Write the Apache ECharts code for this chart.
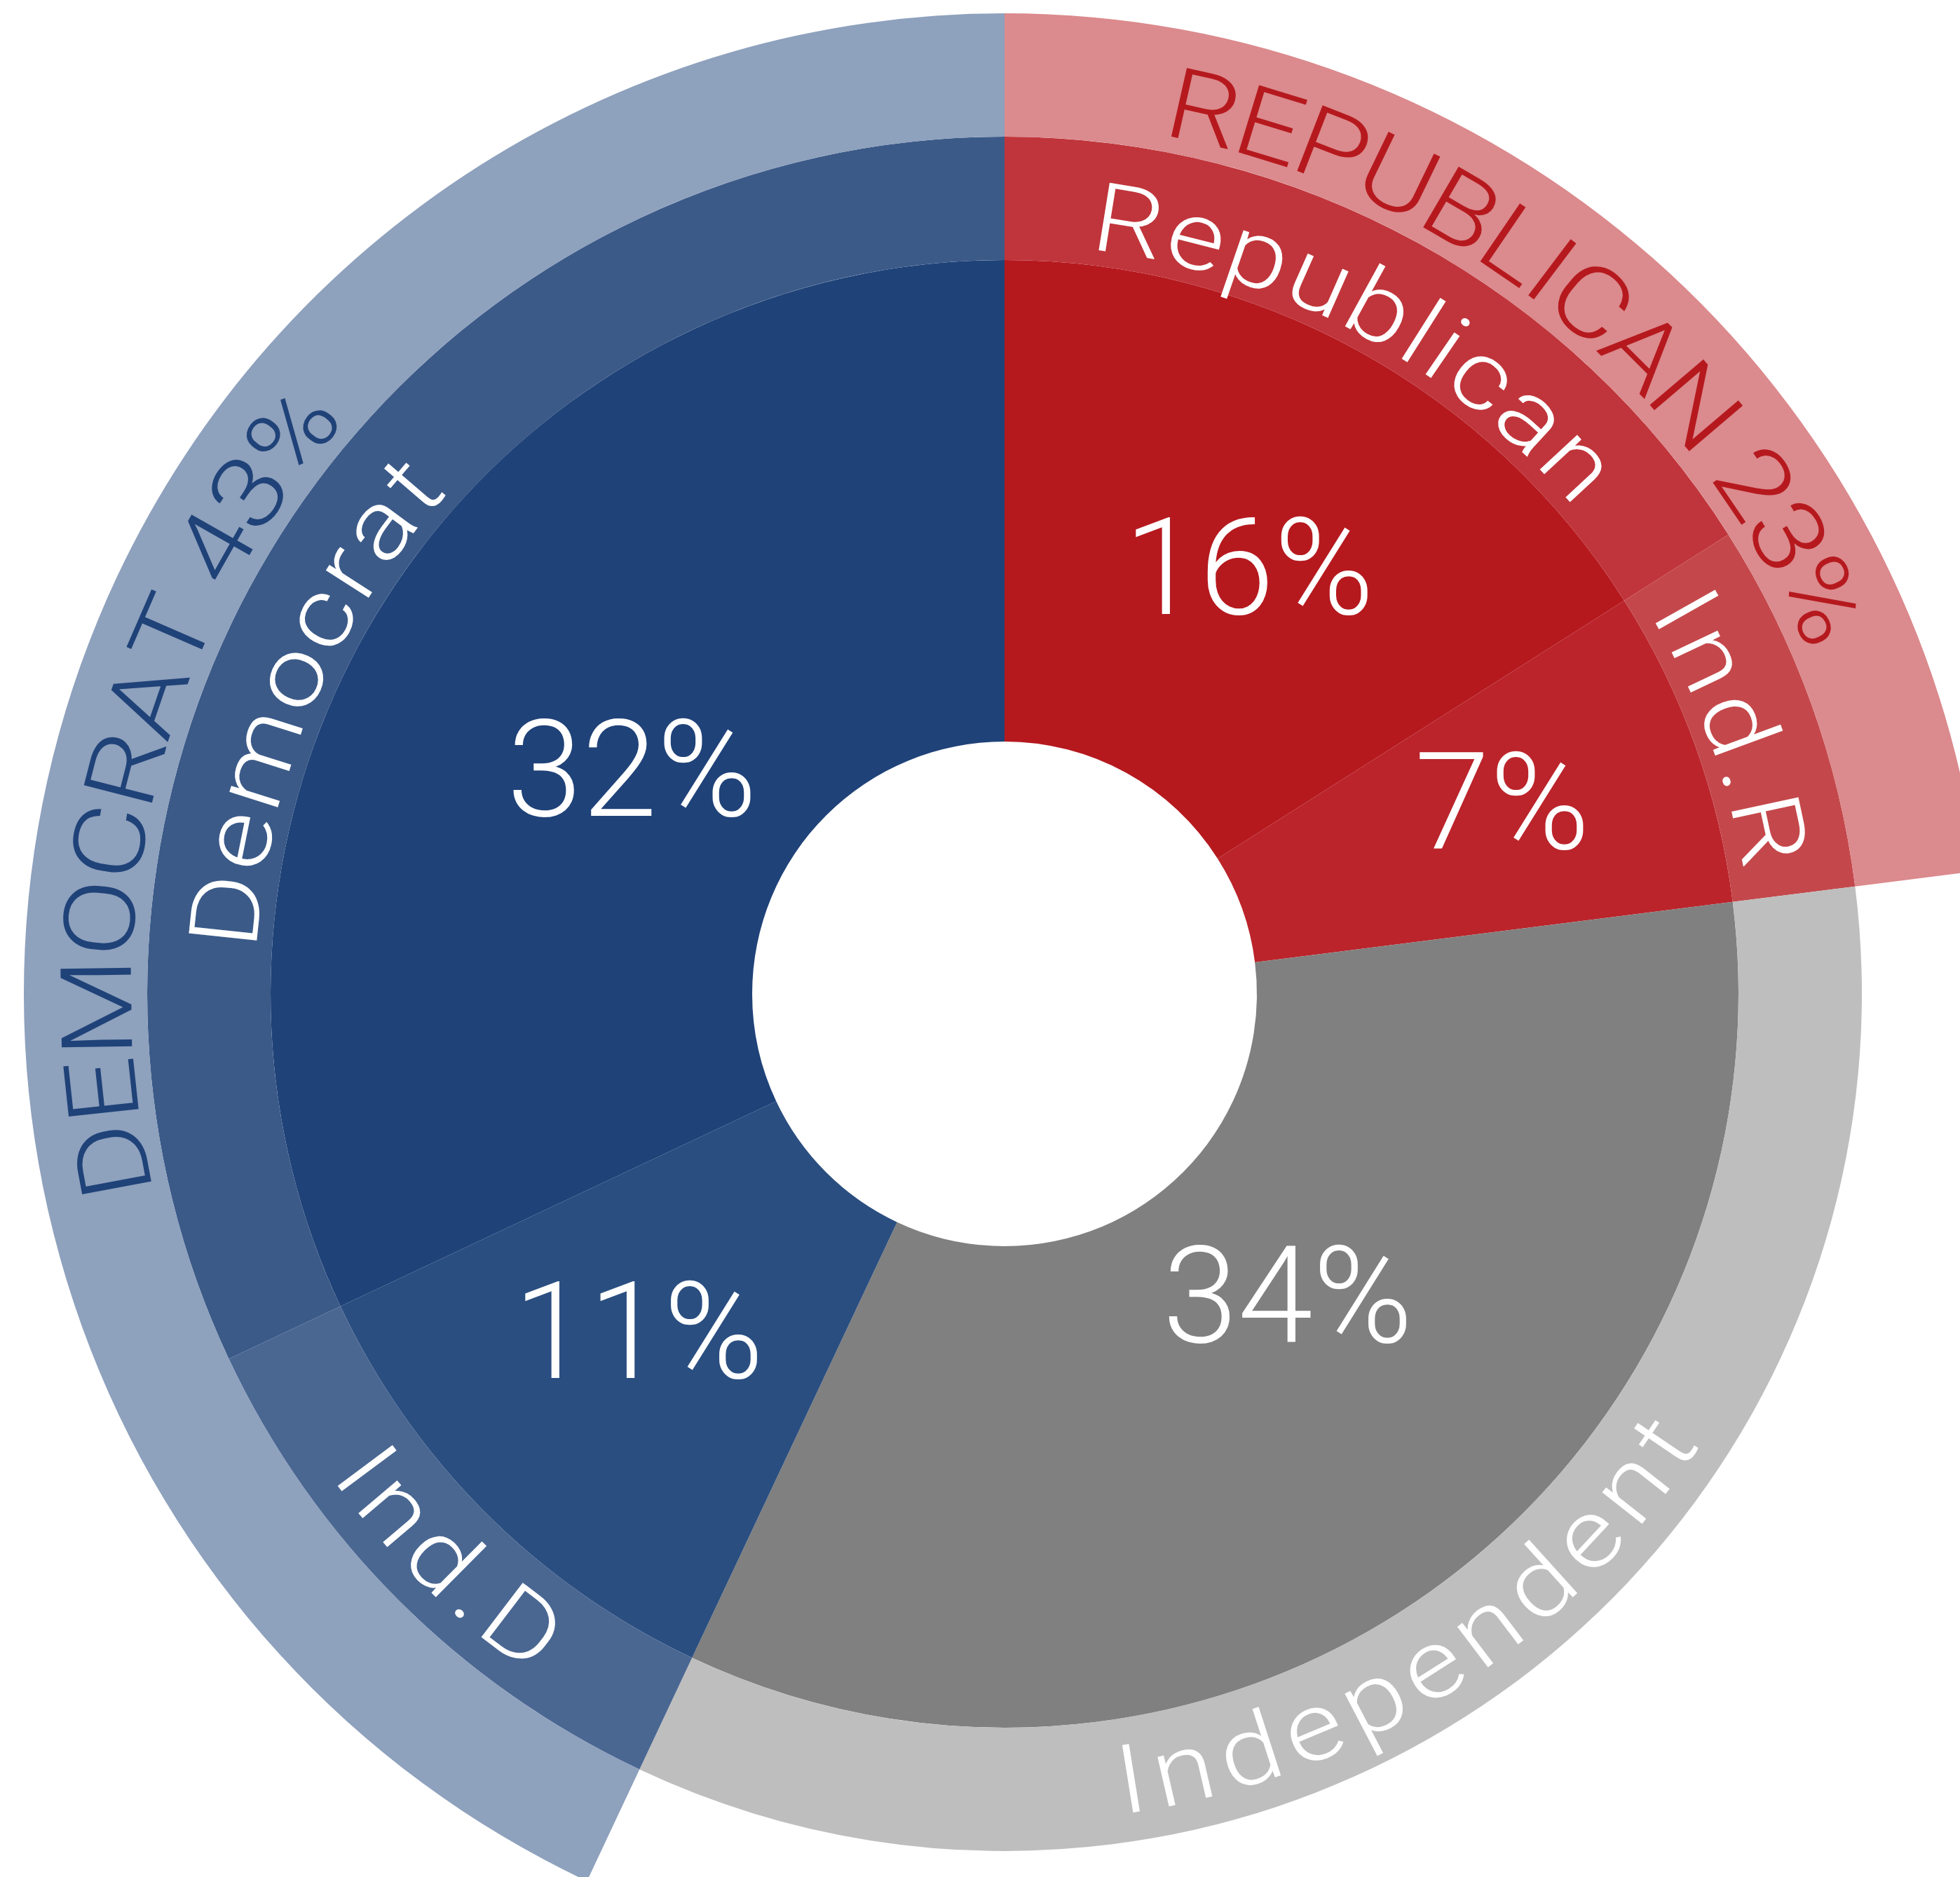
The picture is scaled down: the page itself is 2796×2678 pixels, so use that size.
<!DOCTYPE html>
<html>
<head>
<meta charset="utf-8">
<title>Party affiliation</title>
<script src="https://cdn.jsdelivr.net/npm/echarts@6/dist/echarts.min.js"></script>
<style>
  html, body { margin: 0; padding: 0; background: #fff; }
  #chart { width: 2796px; height: 2678px; }
</style>
</head>
<body>
<div id="chart"></div>
<script>
// inner ring (percent) and middle ring (names) share these
const categories = ['Republican', 'Ind.R', 'Independent', 'Ind.D', 'Democrat']
const shares = [16, 7, 34, 11, 32]
// outer ring: party totals, the independent band is left empty
const groups = ['REPUBLICAN', '', 'DEMOCRAT']
const groupShares = [23, 34, 43]

const innerColors = ['#b5191e', '#bb242b', '#808080', '#2a4e80', '#1f4278']
const middleColors = ['#c0353b', '#c4484b', '#bebebe', '#4a6792', '#3b5a88']
const outerColors = ['#db8a8d', 'rgba(0,0,0,0)', '#8ea1bd']
const outerTextColors = ['#b5191e', null, '#1f4278']

const CX = 1433
const CY = 1418
const RAD = { hole: 360, inner: 1047, middle: 1223, outer: 1399 }
const FONT = 'Roboto, "DejaVu Sans", sans-serif'
const ARC_STRETCH = 1.16

// label placement tweaks: degrees off the slice middle, radius / arc span
const pctLayout = {
  'Republican': { da: 0.9, r: 704 },
  'Ind.R': { da: -1.5, r: 762 },
  'Independent': { da: -7.4, r: 588 },
  'Ind.D': { da: 2.5, r: 708 },
  'Democrat': { da: -1.1, r: 622 }
}
const nameLayout = {
  'Republican': { da: -0.75, span: 43 },
  'Ind.R': { da: -0.2, span: 21 },
  'Independent': { da: 3.4, span: 49 },
  'Ind.D': { da: -0.45, span: 19.7 },
  'Democrat': { da: -9.7, span: 38.6 }
}
const groupLayout = {
  'REPUBLICAN': { da: -2.7, span: 56.6 },
  'DEMOCRAT': { da: 1.4, span: 54 }
}

function midAngles(vals) {
  const total = vals.reduce((a, b) => a + b, 0)
  let acc = 0
  return vals.map(v => {
    const a = (acc + v / 2) / total * 360
    acc += v
    return a
  })
}

const catMid = midAngles(shares)
const groupMid = midAngles(groupShares)

// every text drawn on the polar grid
const labels = []
categories.forEach((c, i) => {
  labels.push({
    kind: 'flat', text: shares[i] + '%', size: 193, color: '#fff',
    angle: catMid[i] + pctLayout[c].da, radius: pctLayout[c].r
  })
  const bottom = catMid[i] > 90 && catMid[i] < 270
  labels.push({
    kind: 'arc', text: c, size: 137, color: '#fff',
    angle: catMid[i] + nameLayout[c].da, span: nameLayout[c].span,
    radius: bottom ? 1148 : 1103
  })
})
groups.forEach((g, i) => {
  if (!g) return
  labels.push({
    kind: 'arc', text: g + ' ' + groupShares[i] + '%', size: 141,
    color: outerTextColors[i],
    angle: groupMid[i] + groupLayout[g].da, span: groupLayout[g].span,
    radius: 1281
  })
})

const measure = document.createElement('canvas').getContext('2d')

function renderLabel(params, api) {
  const it = labels[params.dataIndex]
  const font = '300 ' + it.size + 'px ' + FONT
  if (it.kind === 'flat') {
    const p = api.coord([it.radius, it.angle])
    return {
      type: 'text', x: p[0], y: p[1] + it.size * 0.11,
      style: { text: it.text, font: font, fill: it.color, align: 'center', verticalAlign: 'middle' }
    }
  }
  measure.font = font
  const chars = Array.from(it.text)
  const ws = chars.map(ch => measure.measureText(ch).width * ARC_STRETCH)
  const sum = ws.reduce((a, b) => a + b, 0)
  const arc = it.span * Math.PI / 180 * it.radius
  const track = (arc - sum) / (chars.length - 1)
  const bottom = it.angle > 90 && it.angle < 270
  let s = -arc / 2
  const children = chars.map((ch, k) => {
    const mid = s + ws[k] / 2
    s += ws[k] + track
    const d = mid / it.radius * 180 / Math.PI
    const th = bottom ? it.angle - d : it.angle + d
    const p = api.coord([it.radius, th])
    const rot = bottom ? Math.PI - th * Math.PI / 180 : -th * Math.PI / 180
    return {
      type: 'text', x: p[0], y: p[1], rotation: rot, scaleX: ARC_STRETCH,
      style: { text: ch, font: font, fill: it.color, align: 'center', verticalAlign: 'middle' }
    }
  })
  return { type: 'group', children: children }
}

function ring(names, vals, colors, r0, r1) {
  return {
    type: 'pie',
    center: [CX, CY],
    radius: [r0, r1],
    startAngle: 90,
    clockwise: true,
    silent: true,
    animation: false,
    label: { show: false },
    labelLine: { show: false },
    emphasis: { disabled: true },
    data: vals.map((v, i) => ({ name: names[i] || 'none', value: v, itemStyle: { color: colors[i] } }))
  }
}

const chart = echarts.init(document.getElementById('chart'))
chart.setOption({
  backgroundColor: '#fff',
  animation: false,
  polar: { center: [CX, CY], radius: RAD.outer },
  angleAxis: {
    type: 'value', min: 0, max: 360, startAngle: 90, clockwise: true,
    show: false, splitLine: { show: false }, axisLine: { show: false }
  },
  radiusAxis: {
    type: 'value', min: 0, max: RAD.outer,
    show: false, splitLine: { show: false }, axisLine: { show: false }
  },
  series: [
    ring(categories, shares, innerColors, RAD.hole, RAD.inner),
    ring(categories, shares, middleColors, RAD.inner, RAD.middle),
    ring(groups, groupShares, outerColors, RAD.middle, RAD.outer),
    {
      type: 'custom',
      coordinateSystem: 'polar',
      silent: true,
      z: 10,
      renderItem: renderLabel,
      data: labels.map((l, i) => [l.radius, l.angle, i])
    }
  ]
})
</script>
</body>
</html>
